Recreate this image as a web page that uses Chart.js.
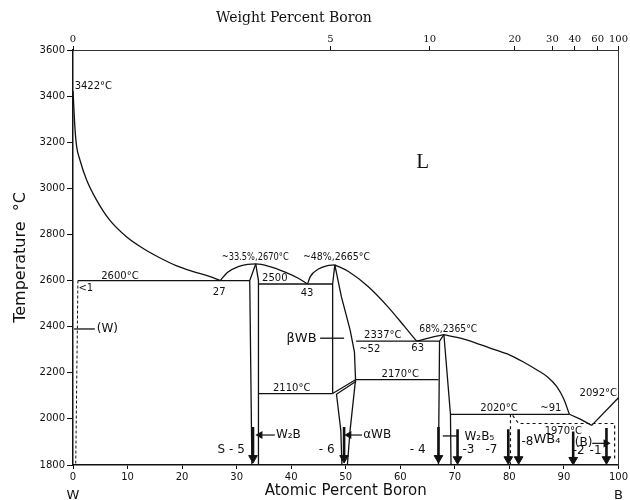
<!DOCTYPE html>
<html><head><meta charset="utf-8">
<script src="https://cdn.jsdelivr.net/npm/chart.js@4/dist/chart.umd.min.js"></script>
<style>html,body{margin:0;padding:0;background:#fff}canvas{display:block}</style>
</head><body>
<canvas id="c" width="630" height="500"></canvas>
<script>
// ---- tick labels ----
const atomicTicks = [0,10,20,30,40,50,60,70,80,90,100];
const tempTicks = [1800,2000,2200,2400,2600,2800,3000,3200,3400,3600];
const wtTickLabels = ['0','5','10','20','30','40','60','100'];
const wtTickAtomic = [0,47.2,65.4,81.0,87.9,92.0,96.2,100];

// ---- phase boundaries: [atomic % B, temperature °C] ----
const liquidusW = [[0,3422],[0.2,3330],[0.36,3260],[0.67,3181],[1.27,3123],[2.5,3036],[4.3,2950],[6.7,2863],[9.8,2790],[12.8,2740],[15.8,2700],[18.9,2665],[21.9,2640],[25,2618],[27,2600]];
const liquidusW2B = [[27,2600],[28.3,2635],[30.3,2660],[32,2670],[33.5,2672],[35.9,2662],[38.9,2637],[41.3,2610],[43,2585]];
const liquidusBWBleft = [[43,2585],[43.5,2617],[45,2650],[46.5,2664],[48,2668]];
const liquidusBWBright = [[48,2668],[50.5,2639],[54.1,2574],[57.7,2487],[60.8,2400],[63,2337]];
const liquidusW2B5left = [[63,2337],[63.8,2342],[66.2,2357],[68,2365]];
const liquidusW2B5right = [[68,2365],[71,2350],[74,2328],[77,2303],[80,2278],[82.5,2248],[85,2213],[87,2182],[88.7,2140],[90,2085],[91,2020]];
const liquidusEut = [[91,2020],[93,1999],[95.1,1972]];
const liquidusB = [[95.1,1972],[100,2092]];
const w2bLeft = [[33.5,2672],[32.4,2600],[32.8,1800]];
const w2bRight = [[33.5,2672],[34,2600],[34,1800]];
const bwbLeft = [[48,2668],[47.6,2585],[47.6,2110]];
const bwbRight = [[48,2668],[49.2,2530],[50.8,2386],[51.6,2290],[51.8,2170]];
const transitionA = [[47.6,2110],[51.8,2170]];
const transitionB = [[48.3,2107],[51.9,2163]];
const awbLeft = [[48.3,2108],[49.1,1950],[49.3,1800]];
const awbRight = [[51.8,2170],[50.8,1950],[50.3,1800]];
const w2b5Left = [[68,2365],[67.2,2337],[67,1800]];
const w2b5Right = [[68,2365],[69.2,2020],[69.3,1800]];
const iso2600 = [[0.9,2600],[32.4,2600]];
const iso2585 = [[34,2585],[47.6,2585]];
const iso2337 = [[51.9,2337],[67.2,2337]];
const iso2170 = [[51.8,2170],[67,2170]];
const iso2110 = [[34,2110],[47.6,2110]];
const iso2020 = [[69.2,2020],[91,2020]];
const solvusW = [[0.9,2600],[0.5,1800]];
const wb4Box = [[80.6,2015],[81.7,1980],[99.3,1980],[99.3,1815]];
const wb4Left = [[80.2,2020],[80.2,1800]];
const bwbTie = [[45.3,2350],[49.7,2350]];
const wTie = [[0.2,2390],[4.0,2390]];
const w2bPointer = [[34.3,1930],[37.0,1930]];
const awbPointer = [[50.6,1930],[53.0,1930]];
const w2b5Tie = [[67.8,1926],[70.4,1926]];
const bPointer = [[95.2,1894],[97.7,1894]];

// ---- composition arrows ----
const arrowAt  = [33.0,49.7,67.0,70.5,79.8,81.7,91.7,97.8];
const arrowTop = [1965,1965,1965,1955,1955,1955,1945,1960];
const arrowTip = [1830,1830,1830,1825,1825,1825,1822,1825];

// ---- text labels [text, atomic %, °C] ----
const labels = [
  ['3422°C',0.3,3440,'left',10],
  ['2600°C',8.6,2620,'center',10],
  ['<1',1.0,2568,'left',10],
  ['27',26.8,2550,'center',10],
  ['~33.5%,2670°C',33.4,2702,'center',10,67],
  ['2500',37.0,2611,'center',10],
  ['43',42.9,2545,'center',10],
  ['~48%,2665°C',48.3,2702,'center',10,67],
  ['βWB',41.9,2350,'center',13],
  ['2337°C',56.8,2360,'center',10],
  ['~52',54.4,2302,'center',10],
  ['63',63.2,2305,'center',10],
  ['68%,2365°C',68.8,2388,'center',10,58],
  ['2170°C',60.0,2192,'center',10],
  ['2110°C',40.1,2134,'center',10],
  ['2020°C',78.1,2047,'center',10],
  ['~91',87.6,2047,'center',10],
  ['2092°C',96.3,2112,'center',10],
  ['1970°C',89.9,1945,'center',10],
  ['(B)',93.6,1894,'center',12],
  ['-2',92.7,1862,'center',12],
  ['-1',95.8,1862,'center',12],
  ['WB₄',86.9,1909,'center',13],
  ['-8',83.3,1900,'center',12],
  ['-7',76.7,1865,'center',12],
  ['-3',72.5,1865,'center',12],
  ['W₂B₅',74.5,1922,'center',12],
  ['- 4',63.2,1865,'center',12],
  ['- 6',46.5,1865,'center',12],
  ['S - 5',29.0,1865,'center',12],
  ['W₂B',37.2,1930,'left',12],
  ['αWB',53.2,1930,'left',12],
  ['(W)',6.3,2390,'center',12],
];

const INK = '#111';
const toXY = a => a.map(p => ({x:p[0], y:p[1]}));
const datasets = [];
function line(arr, opts={}) {
  datasets.push(Object.assign({data: toXY(arr), borderColor: INK, borderWidth: 1.3,
    pointRadius: 0, fill: false, tension: 0, clip: false}, opts));
}
[liquidusW, liquidusW2B, liquidusBWBleft, liquidusBWBright, liquidusW2B5left, liquidusW2B5right]
  .forEach(a => line(a, {cubicInterpolationMode: 'monotone'}));
[liquidusEut, liquidusB, w2bLeft, w2bRight, bwbLeft, bwbRight, transitionA, transitionB, awbLeft, awbRight,
 w2b5Left, w2b5Right, iso2600, iso2585, iso2337, iso2170, iso2110, iso2020, bwbTie, wTie, w2b5Tie]
  .forEach(a => line(a));
line(solvusW, {borderDash: [3,2], borderWidth: 1});
line(wb4Box, {borderDash: [3,3], borderWidth: 1.2});
line(wb4Left, {borderDash: [3,3], borderWidth: 1.2});
[w2bPointer, awbPointer].forEach(a => line(a, {pointStyle: 'triangle', pointRadius: [3.5,0],
  pointRotation: 270, pointBackgroundColor: INK, pointBorderColor: INK, borderWidth: 1.2}));
line(bPointer, {pointStyle: 'triangle', pointRadius: [0,3.5], pointRotation: 90,
  pointBackgroundColor: INK, pointBorderColor: INK, borderWidth: 1.2});
arrowAt.forEach((a, i) => line([[a, arrowTop[i]], [a, arrowTip[i]]], {borderWidth: 2.6,
  pointStyle: 'triangle', pointRadius: [0,5], pointRotation: 180,
  pointBackgroundColor: INK, pointBorderColor: INK, pointBorderWidth: 1}));

const textPlugin = {
  id: 'texts',
  afterDatasetsDraw(chart) {
    const {ctx, scales: {x, y}, chartArea} = chart;
    ctx.save();
    ctx.fillStyle = INK;
    ctx.textBaseline = 'middle';
    labels.forEach(l => {
      ctx.font = l[4] + 'px "DejaVu Sans"';
      ctx.textAlign = l[3];
      const px = x.getPixelForValue(l[1]), py = y.getPixelForValue(l[2]);
      if (l[5]) ctx.fillText(l[0], px, py, l[5]); else ctx.fillText(l[0], px, py);
    });
    ctx.font = '21px "Liberation Serif"';
    ctx.textAlign = 'center';
    ctx.fillText('L', x.getPixelForValue(64.1), y.getPixelForValue(3110));
    ctx.font = '14px "DejaVu Serif"';
    ctx.fillText('Weight Percent Boron', x.getPixelForValue(40.5), chartArea.top - 32);
    ctx.font = '13px "DejaVu Sans"';
    ctx.fillText('W', x.getPixelForValue(0), chartArea.bottom + 31);
    ctx.fillText('B', x.getPixelForValue(100), chartArea.bottom + 31);
    ctx.restore();
  }
};

new Chart(document.getElementById('c'), {
  type: 'line',
  data: {datasets},
  plugins: [textPlugin],
  options: {
    responsive: false, animation: false,
    layout: {padding: {left: 0, right: 9, top: 0, bottom: 0}},
    plugins: {legend: {display: false}, tooltip: {enabled: false}},
    scales: {
      x: {type: 'linear', position: 'bottom', min: 0, max: 100,
        afterBuildTicks: s => { s.ticks = atomicTicks.map(v => ({value: v})); },
        ticks: {color: INK, font: {family: 'DejaVu Sans', size: 10}, padding: 2, maxRotation: 0, autoSkip: false,
          callback: v => String(v)},
        grid: {drawOnChartArea: false, tickLength: 4, color: INK},
        border: {color: INK, width: 1.5},
        title: {display: true, text: 'Atomic Percent Boron', color: INK,
          font: {family: 'DejaVu Sans', size: 15}, padding: {top: 0, bottom: 0}},
        afterFit: s => { s.height = 35; }
      },
      xTop: {type: 'linear', position: 'top', min: 0, max: 100,
        afterBuildTicks: s => { s.ticks = wtTickAtomic.map(v => ({value: v})); },
        ticks: {color: INK, font: {family: 'DejaVu Serif', size: 10}, padding: 1, maxRotation: 0, autoSkip: false,
          callback: (v, i) => wtTickLabels[i]},
        grid: {drawOnChartArea: false, tickLength: 4, color: INK},
        border: {color: '#333', width: 1, dash: [4,3]},
        afterFit: s => { s.height = 50; }
      },
      y: {min: 1800, max: 3600,
        afterBuildTicks: s => { s.ticks = tempTicks.map(v => ({value: v})); },
        ticks: {color: INK, font: {family: 'DejaVu Sans', size: 10}, padding: 2, callback: v => String(v)},
        grid: {drawOnChartArea: false, tickLength: 6, color: INK},
        border: {color: INK, width: 1.5},
        title: {display: true, text: 'Temperature  °C', color: INK,
          font: {family: 'DejaVu Sans', size: 16}, padding: {top: 11, bottom: 0}},
        afterFit: s => { s.width = 73; }
      },
      yRight: {position: 'right', min: 1800, max: 3600,
        ticks: {display: false}, grid: {display: false},
        border: {display: true, color: '#333', width: 1, dash: [2,3]},
        afterFit: s => { s.width = 0; }
      }
    }
  }
});
</script>
</body></html>
